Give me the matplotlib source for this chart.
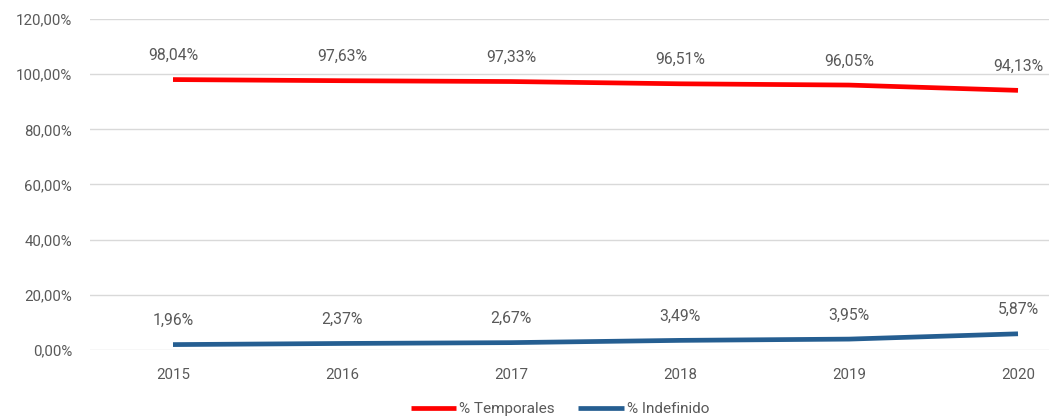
import matplotlib.pyplot as plt
from matplotlib.ticker import FuncFormatter

# données
years = ["2015", "2016", "2017", "2018", "2019", "2020"]
temporales = [98.04, 97.63, 97.33, 96.51, 96.05, 94.13]
indefinido = [1.96, 2.37, 2.67, 3.49, 3.95, 5.87]
y_ticks = [0, 20, 40, 60, 80, 100, 120]

plt.rcParams['font.family'] = ['Roboto', 'DejaVu Sans']
grey = '#595959'

def pct(v, decimals=2):
    return f"{v:.{decimals}f}".replace('.', ',') + '%'

fig = plt.figure(figsize=(10.49, 4.19), dpi=100)
ax = fig.add_axes([90 / 1049, (419 - 350) / 419, (1049 - 90) / 1049, 331 / 419])

x = list(range(len(years)))
ax.plot(x, temporales, color='#ff0000', lw=3.4, solid_capstyle='butt', label='% Temporales')
ax.plot(x, indefinido, color='#255e91', lw=3.4, solid_capstyle='butt', label='% Indefinido')

# étiquettes de données
for serie in (temporales, indefinido):
    for xi, v in zip(x, serie):
        ax.annotate(pct(v), (xi, v), xytext=(0, 12), textcoords='offset points',
                    ha='center', va='bottom', fontsize=11.3, color=grey)

ax.set_ylim(0, 120)
ax.set_yticks(y_ticks)
ax.yaxis.set_major_formatter(FuncFormatter(lambda v, p: pct(v)))
ax.set_xticks(x)
ax.set_xticklabels(years)
ax.set_xlim(-(173 - 90) / 169, 5 + (1049 - 1018) / 169)

ax.grid(axis='y', color='#d9d9d9', lw=1)
ax.set_axisbelow(True)
for s in ax.spines.values():
    s.set_visible(False)
ax.tick_params(length=0, labelsize=10.8, colors=grey)
ax.tick_params(axis='x', pad=13)
ax.tick_params(axis='y', pad=13)

leg = ax.legend(loc='center', bbox_to_anchor=(0.49, -0.178), ncol=2,
                frameon=False, fontsize=11, handlelength=3, handletextpad=0.2,
                columnspacing=1.5, bbox_transform=ax.transAxes)
for t in leg.get_texts():
    t.set_color(grey)

fig.savefig('out.png', dpi=100)
